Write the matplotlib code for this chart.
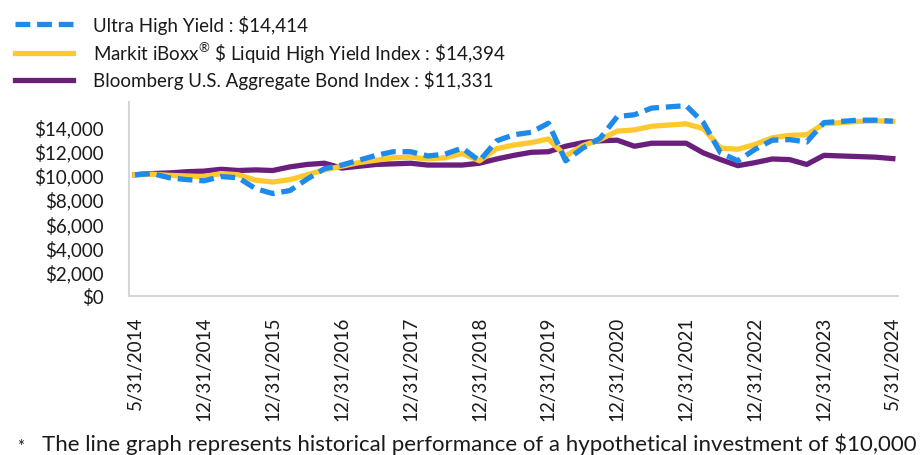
import matplotlib
matplotlib.use("Agg")
import matplotlib.pyplot as plt
import numpy as np

plt.rcParams['font.family'] = ['Lato', 'DejaVu Sans']
plt.rcParams['mathtext.fontset'] = 'custom'
plt.rcParams['mathtext.rm'] = 'Lato'

tick_labels = ["5/31/2014", "12/31/2014", "12/31/2015", "12/31/2016", "12/31/2017",
               "12/31/2018", "12/31/2019", "12/31/2020", "12/31/2021", "12/31/2022",
               "12/31/2023", "5/31/2024"]

ultra_high_yield = [10000, 10100, 9750, 9600, 9500, 9850, 9750, 8850, 8450, 8700,
                    9650, 10500, 10800, 11200, 11600, 11900, 11900, 11550, 11700, 12200,
                    11150, 12800, 13300, 13500, 14250, 11150, 12200, 13000, 14800, 14950,
                    15500, 15600, 15700, 14300, 11800, 11150, 12100, 12850, 12900, 12700,
                    14300, 14400, 14500, 14500, 14414]

markit_iboxx = [10000, 10050, 9950, 9900, 9850, 10100, 10000, 9550, 9400, 9600,
                10000, 10400, 10700, 11000, 11200, 11400, 11450, 11300, 11400, 11750,
                11150, 12150, 12450, 12650, 12950, 11550, 12400, 12900, 13600, 13700,
                14000, 14100, 14200, 13800, 12200, 12100, 12500, 13050, 13250, 13300,
                14200, 14300, 14400, 14450, 14394]

bloomberg_agg = [10000, 10100, 10150, 10250, 10300, 10450, 10350, 10400, 10350, 10650,
                 10850, 10950, 10550, 10700, 10850, 10900, 10950, 10800, 10800, 10800,
                 10950, 11300, 11600, 11850, 11900, 12350, 12650, 12800, 12850, 12350,
                 12600, 12600, 12600, 11800, 11250, 10750, 11000, 11300, 11250, 10850,
                 11600, 11550, 11500, 11450, 11331]

series_names = ["Ultra High Yield : $14,414",
                r"Markit iBoxx$^{\mathregular{®}}$ \$ Liquid High Yield Index : \$14,394",
                "Bloomberg U.S. Aggregate Bond Index : $11,331"]

y_ticks = [0, 2000, 4000, 6000, 8000, 10000, 12000, 14000]

BLUE = "#1e8aea"
YELLOW = "#fec92e"
PURPLE = "#6b1f7c"
TEXT = "#1a1a1a"
FS = 13.5

fig = plt.figure(figsize=(9.24, 4.56), dpi=100)
ax = fig.add_axes([129/924, 1 - 297/456, (898 - 129)/924, (297 - 103)/456])

x = np.arange(len(ultra_high_yield))
ax.plot(x, bloomberg_agg, color=PURPLE, lw=3.8, label=series_names[2], zorder=2)
ax.plot(x, markit_iboxx, color=YELLOW, lw=3.8, label=series_names[1], zorder=3)
ax.plot(x, ultra_high_yield, color=BLUE, lw=3.8, dashes=(2.8, 1.3), label=series_names[0],
        zorder=4, clip_on=False)

ax.set_xlim(-0.35, 44.3)
ax.set_ylim(0, 16000)
ax.set_yticks(y_ticks)
ax.set_yticklabels([f"${v:,.0f}" for v in y_ticks])
tick_pos = np.arange(0, len(x), 4)
ax.set_xticks(tick_pos)
ax.set_xticklabels(tick_labels, rotation=90)
ax.tick_params(axis='both', length=0, labelsize=FS, colors=TEXT)
ax.tick_params(axis='y', pad=18)
ax.tick_params(axis='x', pad=14)

for s in ['top', 'right']:
    ax.spines[s].set_visible(False)
for s in ['left', 'bottom']:
    ax.spines[s].set_color('#d6d6d6')
    ax.spines[s].set_linewidth(1.5)

handles, labels = ax.get_legend_handles_labels()
order = [2, 1, 0]
leg = fig.legend([handles[i] for i in order], [labels[i] for i in order],
                 loc='upper left', bbox_to_anchor=(15/924, 1 - 16/456),
                 frameon=False, fontsize=FS, handlelength=3.1, handletextpad=1.05,
                 labelspacing=0.3, borderaxespad=0, borderpad=0)
for t in leg.get_texts():
    t.set_color(TEXT)

fig.text(17/924, 1 - 439/456, "*", fontsize=12, color=TEXT, va='top')
fig.text(42/924, 1 - 451/456,
         "The line graph represents historical performance of a hypothetical investment of $10,000",
         fontsize=16, color=TEXT, va='baseline')

fig.savefig("out.png", dpi=100)
